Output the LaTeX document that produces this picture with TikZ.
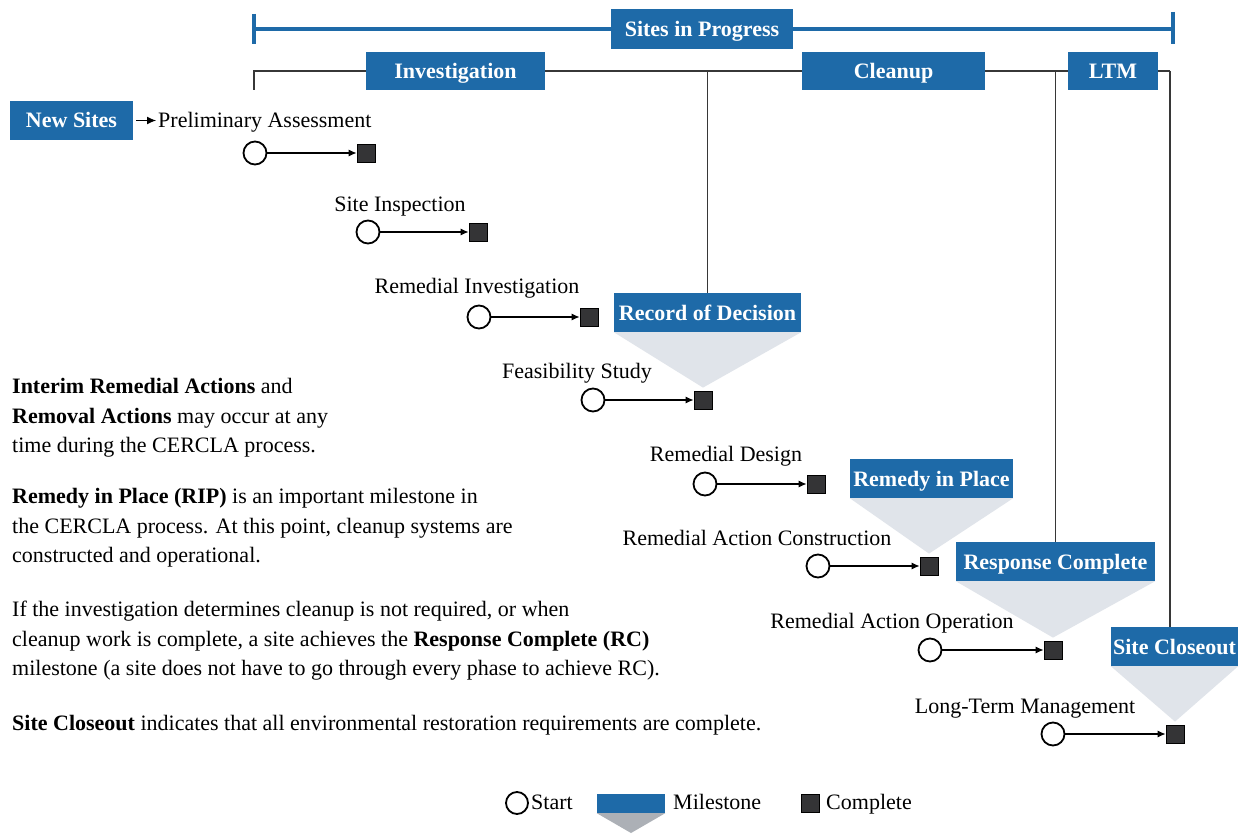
\documentclass[tikz,border=0pt]{standalone}
\usepackage{fontspec}
\setmainfont{Liberation Serif}
\usetikzlibrary{arrows.meta,shapes.geometric,calc}
\definecolor{epablue}{RGB}{30,106,168}
\definecolor{sqfill}{RGB}{52,52,54}
\definecolor{linegray}{RGB}{55,55,55}
\definecolor{trifill}{RGB}{224,228,234}
\definecolor{legfill}{RGB}{172,176,182}
\begin{document}
\begin{tikzpicture}[x=1pt,y=-1pt,
  every node/.style={font=\fontsize{22}{26}\selectfont},
  bluebox/.style={fill=epablue, text=white, font=\fontsize{22}{26}\selectfont\bfseries, minimum height=39pt, inner sep=0pt, text height=17pt, text depth=2pt},
  startc/.style={circle, draw=black, line width=1.8pt, fill=white, minimum size=23pt, inner sep=0pt},
  donesq/.style={rectangle, draw=black, line width=0.8pt, fill=sqfill, minimum size=18pt, inner sep=0pt},
  flow/.style={draw=black, line width=1.1pt, -{Latex[length=8pt,width=7pt]}},
  bracket/.style={draw=linegray, line width=1.4pt},
  tri/.style={fill=trifill, draw=none},
  legtri/.style={fill=legfill, draw=none},
  lbl/.style={anchor=mid, inner sep=0pt},
  para/.style={anchor=mid west, inner sep=0pt},
]
\useasboundingbox[fill=white] (0,0) rectangle (1246,834);

% top blue bar
\coordinate (bl) at (254,29);
\coordinate (br) at (1173,29);
\draw[epablue, line width=4pt] (bl) -- (br);
\draw[epablue, line width=4pt] ($(bl)+(0,-15)$) -- ($(bl)+(0,15)$);
\draw[epablue, line width=4pt] ($(br)+(0,-17)$) -- ($(br)+(0,15)$);
\node[bluebox, minimum width=182pt, minimum height=40pt] (sip) at (702,29) {Sites in Progress};

% thin bracket line
\coordinate (tl) at (254,71);
\coordinate (tr) at (1170,71);
\coordinate (tld) at (254,90);
\draw[bracket] (tld) -- (tl) -- (tr);

% activities
\node[startc] (pa-s) at (255,153) {};
\node[donesq] (pa-e) at (366,153) {};
\node[startc] (si-s) at (368,232) {};
\node[donesq] (si-e) at (478,232) {};
\node[startc] (ri-s) at (479,317) {};
\node[donesq] (ri-e) at (589,317) {};
\node[startc] (fs-s) at (593,400) {};
\node[donesq] (fs-e) at (703,400) {};
\node[startc] (rd-s) at (705,484) {};
\node[donesq] (rd-e) at (816,484) {};
\node[startc] (rac-s) at (818,566) {};
\node[donesq] (rac-e) at (929,566) {};
\node[startc] (rao-s) at (930,650) {};
\node[donesq] (rao-e) at (1053,650) {};
\node[startc] (ltm-s) at (1053,734) {};
\node[donesq] (ltm-e) at (1175,734) {};

% milestone boxes and triangles
\node[bluebox, minimum width=187pt] (rod) at (707.5,312.5) {Record of Decision};
\node[bluebox, minimum width=163pt] (rip) at (931.5,478.5) {Remedy in Place};
\node[bluebox, minimum width=199pt] (rc) at (1055.5,561.5) {Response Complete};
\node[bluebox, minimum width=127pt] (sc) at (1174.5,646.5) {Site Closeout};
\fill[tri] (rod.south west) -- (rod.south east) -- ($(fs-e.north)+(0,-3)$) -- cycle;
\fill[tri] (rip.south west) -- (rip.south east) -- ($(rac-e.north)+(0,-3)$) -- cycle;
\fill[tri] (rc.south west) -- (rc.south east) -- ($(rao-e.north)+(0,-3)$) -- cycle;
\fill[tri] (sc.south west) -- (sc.south east) -- ($(ltm-e.north)+(0,-3)$) -- cycle;

% verticals to bracket
\draw[bracket] (rod.north) -- (rod.north |- tl);
\draw[bracket] (rc.north) -- (rc.north |- tl);
\draw[bracket] (tr) -- (tr |- sc.north);

% phase boxes
\node[bluebox, minimum width=179pt, minimum height=38pt] (inv) at (455.5,71) {Investigation};
\node[bluebox, minimum width=183pt, minimum height=38pt] (clean) at (893.5,71) {Cleanup};
\node[bluebox, minimum width=90pt, minimum height=38pt] (ltmb) at (1113,71) {LTM};
\node[bluebox, minimum width=123pt] (new) at (71.5,120.5) {New Sites};

% labels
\node[para] (pa-l) at (158,125) {Preliminary Assessment};
\node[lbl] (si-l) at (400,209) {Site Inspection};
\node[lbl] (ri-l) at (477,291) {Remedial Investigation};
\node[lbl] (fs-l) at (577,376) {Feasibility Study};
\node[lbl] (rd-l) at (726,459) {Remedial Design};
\node[lbl] (rac-l) at (757,543) {Remedial Action Construction};
\node[lbl] (rao-l) at (892,626) {Remedial Action Operation};
\node[lbl] (ltm-l) at (1025,711) {Long-Term Management};

% flow arrows
\draw[flow, -{Latex[length=9pt,width=8pt]}, shorten <=3pt, shorten >=2pt] (new.east) -- (new.east -| pa-l.west);
\draw[flow] (pa-s) -- (pa-e);
\draw[flow] (si-s) -- (si-e);
\draw[flow] (ri-s) -- (ri-e);
\draw[flow] (fs-s) -- (fs-e);
\draw[flow] (rd-s) -- (rd-e);
\draw[flow] (rac-s) -- (rac-e);
\draw[flow] (rao-s) -- (rao-e);
\draw[flow] (ltm-s) -- (ltm-e);

% explanatory text
\node[para] (t1) at (12,391) {\textbf{Interim Remedial Actions} and};
\node[para] (t2) at (12,421) {\textbf{Removal Actions} may occur at any};
\node[para] (t3) at (12,450) {time during the CERCLA process.};
\node[para] (t4) at (12,501) {\textbf{Remedy in Place (RIP)} is an important milestone in};
\node[para] (t5) at (12,531) {the CERCLA process. At this point, cleanup systems are};
\node[para] (t6) at (12,560) {constructed and operational.};
\node[para] (t7) at (12,614) {If the investigation determines cleanup is not required, or when};
\node[para] (t8) at (12,644) {cleanup work is complete, a site achieves the \textbf{Response Complete (RC)}};
\node[para] (t9) at (12,673) {milestone (a site does not have to go through every phase to achieve RC).};
\node[para] (t10) at (12,728) {\textbf{Site Closeout} indicates that all environmental restoration requirements are complete.};

% legend
\node[startc, minimum size=22pt] (lg-c) at (517,803) {};
\node[para] (lg-ct) at (531,807) {Start};
\node[fill=epablue, minimum width=68pt, minimum height=19pt, inner sep=0pt] (lg-m) at (631,803.5) {};
\coordinate (lg-tip) at (631,833);
\fill[legtri] (lg-m.south west) -- (lg-m.south east) -- (lg-tip) -- cycle;
\node[para] (lg-mt) at (673,807) {Milestone};
\node[donesq] (lg-q) at (810,803) {};
\node[para] (lg-qt) at (826,807) {Complete};
\end{tikzpicture}
\end{document}
